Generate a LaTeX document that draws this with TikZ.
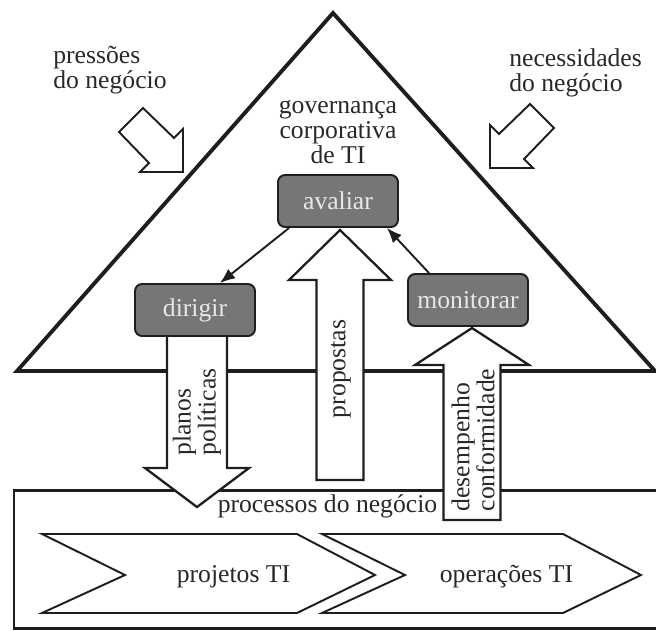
\documentclass[tikz,border=0pt]{standalone}
\usepackage{fontspec}
\setmainfont{Liberation Serif}
\usetikzlibrary{arrows.meta,positioning,calc}
\definecolor{LineDark}{RGB}{30, 30, 30}
\definecolor{BoxGray}{RGB}{118, 118, 118}
\definecolor{BoxText}{RGB}{232, 232, 232}
\definecolor{TextDark}{RGB}{40, 40, 40}
\newcommand{\govfont}{\fontsize{14.6}{14.2}\selectfont}

\tikzset{
  govbox/.style={draw=LineDark, line width=1.1pt, fill=BoxGray, rounded corners=4pt,
    minimum width=2.4cm, minimum height=1.04cm, text=BoxText},
  blockarrow/.style={draw=LineDark, line width=1.3pt, fill=white, line join=miter},
  chevron/.style={draw=LineDark, line width=1.1pt, fill=white},
  thinarrow/.style={-{Latex[length=0.3cm,width=0.24cm]}, draw=LineDark, line width=1.1pt}
}

\begin{document}
\begin{tikzpicture}[x=0.02cm, y=-0.02cm, every node/.style={text=TextDark, font=\govfont, inner sep=0pt}]
  \useasboundingbox (0,0) rectangle (656,630);

  % Pyramid
  \draw[LineDark, line width=2.2pt, line join=miter] (17,371) -- (333,13) -- (655,371) -- cycle;
  \node[align=center, anchor=base] (gov) at (338,163) {governança\\corporativa\\de TI};

  % Outside pressures
  \node[align=left, anchor=base west] (press) at (53,88) {pressões\\do negócio};
  \node[align=left, anchor=base west] (need) at (509,91) {necessidades\\do negócio};
  \foreach \tx/\ty/\s in {183/172/1, 490/168/-1} {
    \draw[blockarrow, line width=1.1pt, shift={(\tx,\ty)}, xscale=\s]
      (0,0) -- (0,-43) -- (-9,-34) -- (-40,-64) -- (-64,-40) -- (-34,-9) -- (-43,0) -- cycle;
  }

  % Business processes
  \draw[LineDark, line width=1.7pt] (14,490) rectangle (670,628);
  \node[anchor=base] (proc) at (327.5,512) {processos do negócio};

  \foreach \xa/\xb/\nm/\txt in {42/297/proj/projetos TI, 322/563/oper/operações TI} {
    \draw[chevron] (\xa,534) -- (\xb,534) -- (\xb+78,575) -- (\xb,613) -- (\xa,613) -- (\xa+83,575) -- cycle;
    \node[anchor=base] (\nm) at ({(\xa+\xb)/2+64},582) {\txt};
  }

  % Flows
  \foreach \xc/\ws/\wh/\ya/\yb/\yc in {197/30/52/335/468/507, 340/23.5/51/480/280/230, 472/28.5/57/520/365/328} {
    \draw[blockarrow] (\xc-\ws,\ya) -- (\xc-\ws,\yb) -- (\xc-\wh,\yb) -- (\xc,\yc)
      -- (\xc+\wh,\yb) -- (\xc+\ws,\yb) -- (\xc+\ws,\ya) -- cycle;
  }
  \node[rotate=90, align=left] (plan) at (197,412) {planos\\políticas};
  \node[rotate=90] (prop) at (341,369) {propostas};
  \node[rotate=90, align=left] (desemp) at (473,440) {desempenho\\conformidade};

  % Governance tasks
  \node[govbox] (avaliar) at (338,201) {avaliar};
  \node[govbox] (dirigir) at (195,310) {dirigir};
  \node[govbox] (monitorar) at (468,300) {monitorar};

  \draw[thinarrow] ([xshift=0.24cm]avaliar.south west) -- ([xshift=0.5cm]dirigir.north);
  \draw[thinarrow] ([xshift=0.44cm]monitorar.north west) -- ([xshift=-0.24cm]avaliar.south east);
\end{tikzpicture}
\end{document}
